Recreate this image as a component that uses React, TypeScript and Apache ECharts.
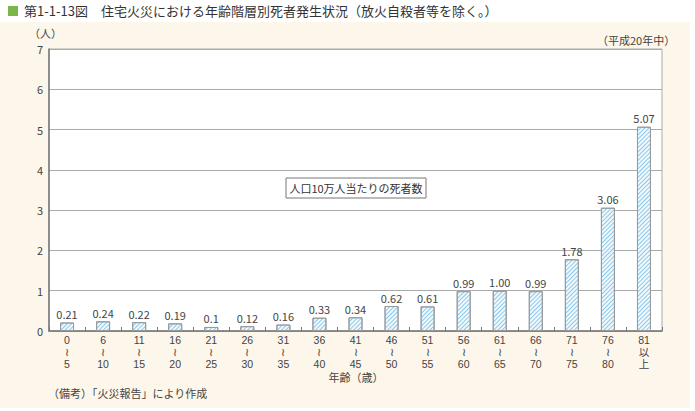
import React, { useEffect, useRef } from "react";
import * as echarts from "echarts";

const categories = ["0\n≀\n5", "6\n≀\n10", "11\n≀\n15", "16\n≀\n20", "21\n≀\n25", "26\n≀\n30", "31\n≀\n35", "36\n≀\n40", "41\n≀\n45", "46\n≀\n50", "51\n≀\n55", "56\n≀\n60", "61\n≀\n65", "66\n≀\n70", "71\n≀\n75", "76\n≀\n80", "81\n以\n上"];
const values = [0.21, 0.24, 0.22, 0.19, 0.1, 0.12, 0.16, 0.33, 0.34, 0.62, 0.61, 0.99, 1.0, 0.99, 1.78, 3.06, 5.07];
const valueLabels = ["0.21", "0.24", "0.22", "0.19", "0.1", "0.12", "0.16", "0.33", "0.34", "0.62", "0.61", "0.99", "1.00", "0.99", "1.78", "3.06", "5.07"];

const FONT = "'Noto Sans CJK JP', 'Noto Sans', sans-serif";
const NUMFONT = "'Liberation Sans', 'Noto Sans CJK JP', sans-serif";

export default function App() {
  const ref = useRef<HTMLDivElement>(null);
  useEffect(() => {
    const chart = echarts.init(ref.current!, null, { renderer: "svg" });
    chart.setOption({
      animation: false,
      backgroundColor: "#ffffff",
      textStyle: { fontFamily: FONT },
      graphic: [
        { type: "rect", shape: { x: 0, y: 22, width: 690, height: 386 }, style: { fill: "#fdf6ea" }, z: -10, silent: true },
        { type: "rect", shape: { x: 8, y: 6, width: 10, height: 10 }, style: { fill: "#7ab648" } },
        { type: "text", x: 24, y: 4, style: { text: "第1-1-13図　住宅火災における年齢階層別死者発生状況（放火自殺者等を除く。）", font: `13px ${FONT}`, fill: "#333" } },
        { type: "text", x: 29, y: 27, style: { text: "（人）", font: `11px ${FONT}`, fill: "#444" } },
        { type: "text", x: 597, y: 34, style: { text: "（平成20年中）", font: `11px ${FONT}`, fill: "#444" } },
        { type: "rect", shape: { x: 286, y: 178, width: 140, height: 20 }, style: { fill: "#fff", stroke: "#777", lineWidth: 1 } },
        { type: "text", x: 356, y: 188, style: { text: "人口10万人当たりの死者数", font: `11px ${FONT}`, fill: "#333", align: "center", verticalAlign: "middle" } },
        { type: "text", x: 356, y: 377, style: { text: "年齢（歳）", font: `11px ${FONT}`, fill: "#444", align: "center", verticalAlign: "middle" } },
        { type: "text", x: 48, y: 393, style: { text: "（備考）「火災報告」により作成", font: `11px ${FONT}`, fill: "#444", verticalAlign: "middle" } },
      ],
      grid: { left: 49, right: 33, top: 49, bottom: 80, show: true, backgroundColor: "#ffffff", borderColor: "#aaa", borderWidth: 1 },
      xAxis: {
        type: "category",
        data: categories,
        axisLine: { lineStyle: { color: "#777", width: 1.5 } },
        axisTick: { show: true, inside: true, length: 4, lineStyle: { color: "#777" } },
        axisLabel: { color: "#444", fontSize: 10.5, lineHeight: 12, margin: 3, interval: 0, fontFamily: NUMFONT },
      },
      yAxis: {
        type: "value",
        min: 0,
        max: 7,
        interval: 1,
        axisLine: { show: true, lineStyle: { color: "#777", width: 1.5 } },
        axisTick: { show: false },
        splitLine: { lineStyle: { color: "#aaa", width: 1 } },
        axisLabel: { color: "#444", fontSize: 11, margin: 6, fontFamily: FONT },
      },
      series: [
        {
          type: "bar",
          data: values,
          barWidth: 14,
          itemStyle: {
            color: "#f2f9fd",
            borderColor: "#999",
            borderWidth: 1,
            decal: { symbol: "rect", symbolSize: 1, dashArrayX: [1, 0], dashArrayY: [1, 2], rotation: -Math.PI / 4, color: "#8cc8ea" },
          },
          label: {
            show: true,
            position: "top",
            distance: 3,
            color: "#444",
            fontSize: 11,
            fontFamily: FONT,
            formatter: (p: any) => valueLabels[p.dataIndex],
          },
        },
      ],
    });
    return () => chart.dispose();
  }, []);
  return <div ref={ref} style={{ width: 695, height: 411, position: "absolute", left: 0, top: 0 }} />;
}
